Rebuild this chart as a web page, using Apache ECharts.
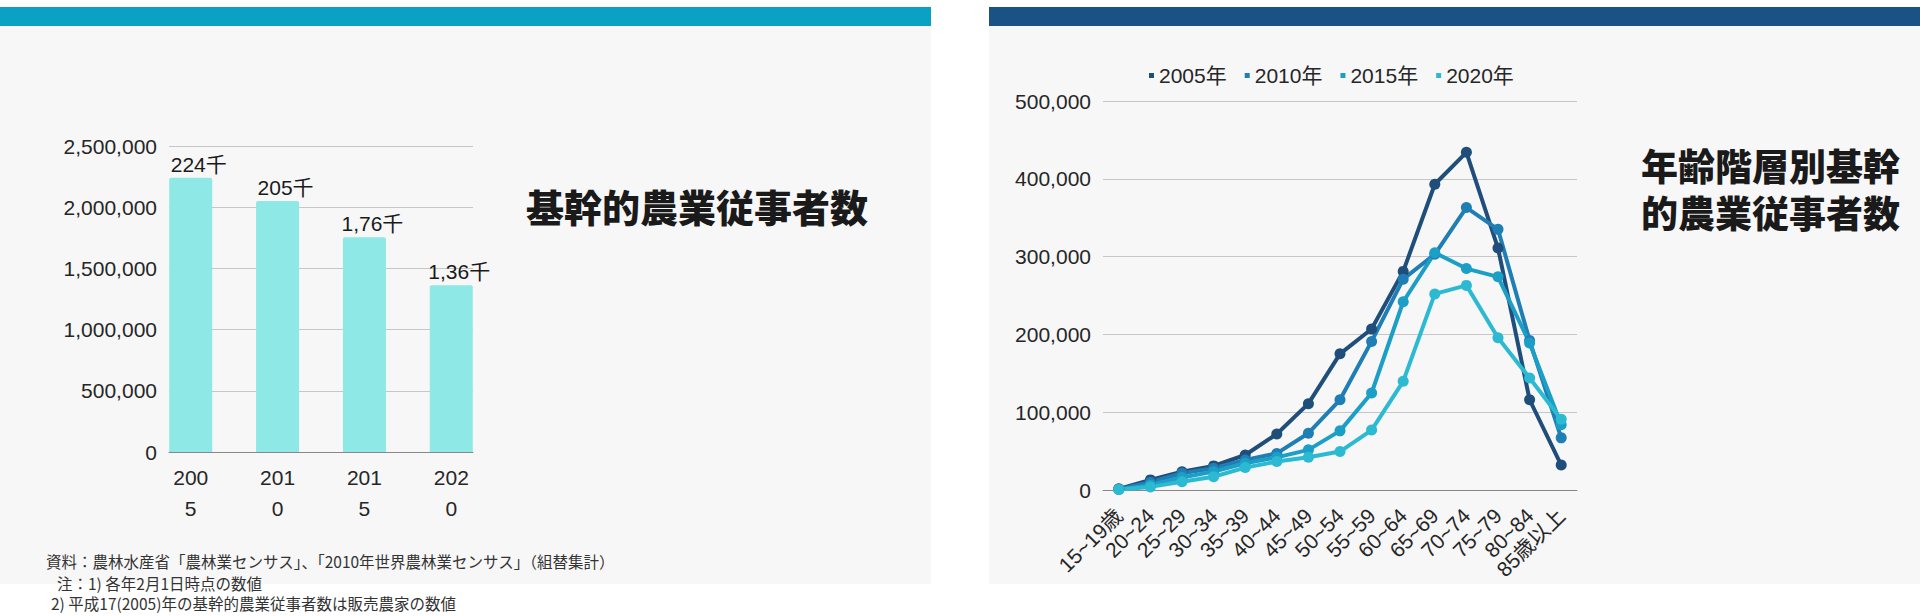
<!DOCTYPE html>
<html>
<head>
<meta charset="utf-8">
<style>
  html, body { margin: 0; padding: 0; background: #ffffff; }
  #chart { width: 1920px; height: 616px; }
</style>
<script src="https://cdn.jsdelivr.net/npm/echarts@6/dist/echarts.min.js"></script>
</head>
<body>
<div id="chart"></div>
<script>
// --- data: core farm workers by year ---
var barYears = ['2005', '2010', '2015', '2020'];
var barValues = [2241000, 2051000, 1754000, 1363000];
var barLabels = ['224千', '205千', '1,76千', '1,36千'];

// --- data: core farm workers by age group ---
var ageGroups = ['15~19歳', '20~24', '25~29', '30~34', '35~39', '40~44', '45~49', '50~54',
                 '55~59', '60~64', '65~69', '70~74', '75~79', '80~84', '85歳以上'];
var seriesNames = ['2005年', '2010年', '2015年', '2020年'];
var v2005 = [1500, 13000, 23600, 31000, 45000, 72000, 111000, 175000, 207000, 281000, 393000, 434000, 311000, 116000, 32000];
var v2010 = [1000, 10000, 21500, 28000, 38700, 47000, 73000, 116000, 191000, 271000, 303000, 363000, 335000, 192000, 67000];
var v2015 = [500, 6500, 16000, 23600, 34400, 42000, 51600, 76000, 124700, 242000, 305000, 284600, 274000, 189000, 84000];
var v2020 = [500, 4000, 10700, 17000, 28800, 36500, 42000, 49400, 77000, 139700, 252000, 263000, 195600, 144000, 91000];

var notes = [
  '資料：農林水産省「農林業センサス」、「2010年世界農林業センサス」（組替集計）',
  '注：1) 各年2月1日時点の数値',
  '2) 平成17(2005)年の基幹的農業従事者数は販売農家の数値'
];

var font = "'Liberation Sans', 'Noto Sans CJK JP', sans-serif";
var cjk = "'Noto Sans CJK JP', sans-serif";
var ink = '#262626';
var lineColors = ['#1f4e7a', '#1f7fb4', '#1c9fc6', '#2bbad2'];

function commas(v) { return Number(v).toLocaleString('en-US'); }

var chart = echarts.init(document.getElementById('chart'), null, { renderer: 'svg' });

var lineSeries = [v2005, v2010, v2015, v2020].map(function (vals, i) {
  return {
    name: seriesNames[i],
    type: 'line',
    xAxisIndex: 1,
    yAxisIndex: 1,
    data: vals,
    symbol: 'circle',
    symbolSize: 11,
    lineStyle: { color: lineColors[i], width: 4 },
    itemStyle: { color: lineColors[i] }
  };
});

chart.setOption({
  animation: false,
  textStyle: { fontFamily: font },
  graphic: [
    // panels
    { type: 'rect', shape: { x: 0, y: 26, width: 931, height: 558 }, style: { fill: '#f7f7f7' }, z: -10 },
    { type: 'rect', shape: { x: 989, y: 26, width: 931, height: 558 }, style: { fill: '#f7f7f7' }, z: -10 },
    { type: 'rect', shape: { x: 0, y: 7, width: 931, height: 19 }, style: { fill: '#0aa1c5' }, z: -10 },
    { type: 'rect', shape: { x: 989, y: 7, width: 931, height: 19 }, style: { fill: '#1a5285' }, z: -10 },
    // titles
    { type: 'text', left: 526, top: 186, style: { text: '基幹的農業従事者数', font: '900 38px ' + cjk, fill: '#1a1a1a' } },
    { type: 'text', left: 1641, top: 146, style: { text: '年齢階層別基幹', font: '900 37px ' + cjk, fill: '#1a1a1a' } },
    { type: 'text', left: 1641, top: 193, style: { text: '的農業従事者数', font: '900 37px ' + cjk, fill: '#1a1a1a' } },
    // notes
    { type: 'text', left: 46, top: 553, style: { text: notes[0], font: '15.5px ' + cjk, fill: '#333' } },
    { type: 'text', left: 57, top: 575, style: { text: notes[1], font: '15.5px ' + cjk, fill: '#333' } },
    { type: 'text', left: 51, top: 595, style: { text: notes[2], font: '15.5px ' + cjk, fill: '#333' } }
  ],
  legend: {
    data: seriesNames,
    left: 1144,
    top: 60,
    icon: 'rect',
    itemWidth: 5,
    itemHeight: 5,
    itemGap: 18,
    textStyle: { fontSize: 21, color: ink, fontFamily: font }
  },
  grid: [
    { left: 169, right: 1447, top: 146, bottom: 164 },
    { left: 1103, right: 343, top: 101, bottom: 126 }
  ],
  xAxis: [
    {
      type: 'value',
      gridIndex: 0,
      min: -0.25,
      max: 3.25,
      splitLine: { show: false },
      axisTick: { show: false },
      axisLine: { show: true, onZero: false, lineStyle: { color: '#888' } },
      axisLabel: {
        customValues: [0, 1, 2, 3],
        margin: 10,
        fontSize: 21,
        lineHeight: 31,
        color: ink,
        formatter: function (v) {
          var s = barYears[Math.round(v)] || '';
          return s.slice(0, 3) + '\n' + s.slice(3);
        }
      }
    },
    {
      type: 'category',
      gridIndex: 1,
      data: ageGroups,
      boundaryGap: true,
      axisTick: { show: false },
      axisLine: { lineStyle: { color: '#888' } },
      axisLabel: { interval: 0, rotate: 45, fontSize: 21, color: ink, margin: 22 }
    }
  ],
  yAxis: [
    {
      type: 'value',
      gridIndex: 0,
      min: 0,
      max: 2500000,
      interval: 500000,
      axisLine: { show: false },
      axisTick: { show: false },
      splitLine: { lineStyle: { color: '#c6c6c6' } },
      axisLabel: { fontSize: 21, color: ink, margin: 12, formatter: commas }
    },
    {
      type: 'value',
      gridIndex: 1,
      min: 0,
      max: 500000,
      interval: 100000,
      axisLine: { show: false },
      axisTick: { show: false },
      splitLine: { lineStyle: { color: '#c6c6c6' } },
      axisLabel: { fontSize: 21, color: ink, margin: 12, formatter: commas }
    }
  ],
  series: [
    {
      type: 'bar',
      xAxisIndex: 0,
      yAxisIndex: 0,
      data: barValues.map(function (v, i) { return [i, v]; }),
      barWidth: 43,
      itemStyle: { color: '#8de8e6', borderRadius: [2, 2, 0, 0] },
      label: {
        show: true,
        position: 'top',
        distance: 3,
        offset: [8, 0],
        fontSize: 21,
        color: '#1a1a1a',
        formatter: function (p) { return barLabels[p.dataIndex]; }
      }
    }
  ].concat(lineSeries)
});
window.addEventListener('resize', function () { chart.resize(); });
</script>
</body>
</html>
